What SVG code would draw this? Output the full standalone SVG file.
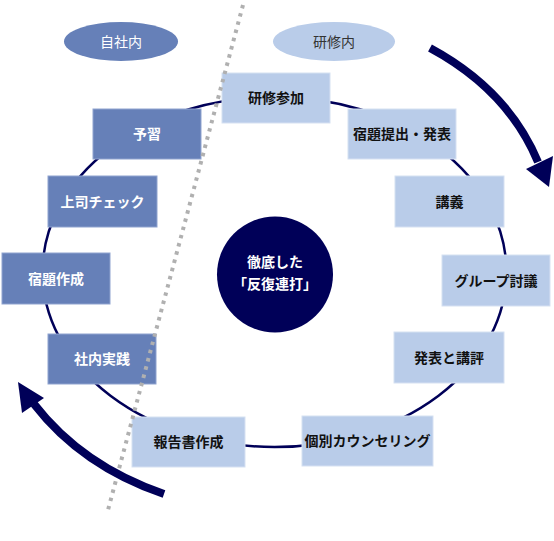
<svg xmlns="http://www.w3.org/2000/svg" width="554" height="541" viewBox="0 0 554 541">
<style>
.dk rect{fill:#6680b8;stroke:#8fa3cf;stroke-width:1}
.lt rect{fill:#b9cce9;stroke:#d6e1f2;stroke-width:1}
text{font-family:"Noto Sans CJK JP","Noto Sans",sans-serif;font-size:14px;text-anchor:middle}
.dk text{fill:#ffffff;font-weight:bold}
.lt text{fill:#111111;font-weight:bold}
.ring{fill:none;stroke:#000058;stroke-width:2.5}
.big{fill:none;stroke:#000058;stroke-width:8}
.head{fill:#000058}
.sep{stroke:#b0b0b0;stroke-width:4;stroke-dasharray:3.5 5}
</style>
<rect width="554" height="541" fill="#ffffff"/>
<g id="connectors">
<ellipse class="ring" cx="274.5" cy="272" rx="232" ry="175"/>
</g>
<g id="label-jisha">
<ellipse cx="121" cy="41.5" rx="57" ry="19.5" fill="#6680b8"/>
<text x="121" y="47" fill="#ffffff" font-size="15">自社内</text>
</g>
<g id="label-kenshu">
<ellipse cx="334" cy="41.5" rx="61" ry="19.5" fill="#b9cce9"/>
<text x="334" y="47" fill="#333333" font-size="15">研修内</text>
</g>
<g id="center">
<circle cx="275" cy="274.5" r="58" fill="#000058"/>
<text x="275" y="267" fill="#ffffff" font-weight="bold">徹底した</text>
<text x="275" y="289" fill="#ffffff" font-weight="bold">「反復連打」</text>
</g>
<g id="n-kenshusanka" class="lt"><rect x="222" y="73" width="108" height="50"/><text x="276" y="103">研修参加</text></g>
<g id="n-shukudaiteishutsu" class="lt"><rect x="348" y="109" width="108" height="50"/><text x="402" y="139">宿題提出・発表</text></g>
<g id="n-kogi" class="lt"><rect x="395" y="176" width="109" height="51"/><text x="449.5" y="206.5">講義</text></g>
<g id="n-group" class="lt"><rect x="442" y="255" width="108" height="51"/><text x="496" y="285.5">グループ討議</text></g>
<g id="n-happyo" class="lt"><rect x="394" y="332" width="110" height="51"/><text x="449" y="362.5">発表と講評</text></g>
<g id="n-kobetsu" class="lt"><rect x="302" y="416" width="131" height="50"/><text x="367.5" y="446">個別カウンセリング</text></g>
<g id="n-hokokusho" class="lt"><rect x="132" y="417" width="113" height="50"/><text x="188.5" y="447">報告書作成</text></g>
<g id="n-shanaijissen" class="dk"><rect x="48" y="334" width="108" height="50"/><text x="102" y="364">社内実践</text></g>
<g id="n-shukudaisakusei" class="dk"><rect x="2" y="253" width="108" height="51"/><text x="56" y="283.5">宿題作成</text></g>
<g id="n-joshi" class="dk"><rect x="48" y="176" width="109" height="51"/><text x="102.5" y="206.5">上司チェック</text></g>
<g id="n-yoshu" class="dk"><rect x="93" y="109" width="108" height="50"/><text x="147" y="139">予習</text></g>
<g id="separator">
<line class="sep" x1="243" y1="5" x2="108" y2="510"/>
</g>
<g id="arrows">
<path class="big" d="M430 48 Q508 90 538 162"/>
<polygon class="head" points="526,169 553,156 549,187"/>
<path class="big" d="M164 494 Q82 466 34 404"/>
<polygon class="head" points="22,413 44,398 18,382"/>
</g>
</svg>
